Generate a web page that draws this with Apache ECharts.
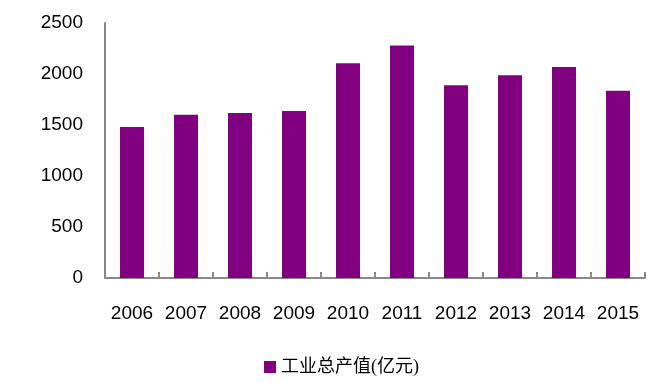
<!DOCTYPE html>
<html>
<head>
<meta charset="utf-8">
<script src="https://cdn.jsdelivr.net/npm/echarts@6/dist/echarts.min.js"></script>
<style>
html,body{margin:0;padding:0;background:#fff}
#main{width:649px;height:383px}
</style>
</head>
<body>
<div id="main"></div>
<script>
// 年份
var years = ['2006','2007','2008','2009','2010','2011','2012','2013','2014','2015'];
// 工业总产值(亿元)
var output = [1480, 1600, 1618, 1638, 2105, 2280, 1890, 1988, 2068, 1835];
var yTicks = [0, 500, 1000, 1500, 2000, 2500];

var myChart = echarts.init(document.getElementById('main'));
var option = {
    animation: false,
    grid: {left: 105, right: 4, top: 23, bottom: 105},
    legend: {
        bottom: 2,
        left: 259,
        icon: 'rect',
        itemWidth: 12,
        itemHeight: 12,
        itemGap: 4,
        textStyle: {fontSize: 18, color: '#000', fontFamily: 'Liberation Serif, Noto Sans CJK SC'},
        data: ['工业总产值(亿元)']
    },
    xAxis: {
        type: 'category',
        data: years,
        axisLine: {lineStyle: {color: '#888', width: 2}},
        axisTick: {show: true, inside: true, interval: 0, length: 6, lineStyle: {color: '#888', width: 2}},
        axisLabel: {fontSize: 19, color: '#000', margin: 26, interval: 0, hideOverlap: false, fontFamily: 'Liberation Sans'}
    },
    yAxis: {
        type: 'value',
        min: yTicks[0],
        max: yTicks[yTicks.length - 1],
        interval: 500,
        splitLine: {show: false},
        axisLine: {show: true, lineStyle: {color: '#888', width: 2}},
        axisTick: {show: false},
        axisLabel: {
            fontSize: 19, color: '#000', margin: 22, fontFamily: 'Liberation Sans',
            formatter: function (v) { return String(v); }
        }
    },
    series: [{
        name: '工业总产值(亿元)',
        type: 'bar',
        data: output,
        barWidth: 24,
        itemStyle: {color: '#800080'}
    }]
};
myChart.setOption(option);
</script>
</body>
</html>
